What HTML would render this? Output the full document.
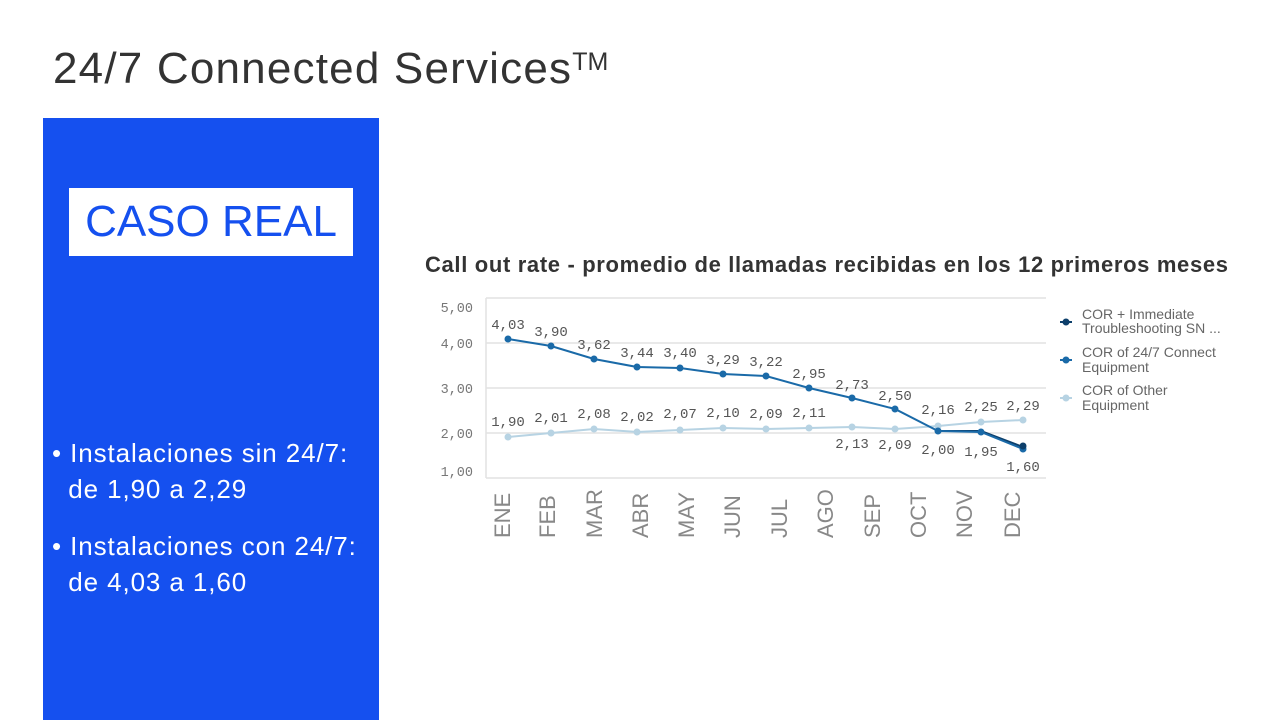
<!DOCTYPE html>
<html><head><meta charset="utf-8"><style>
body{margin:0;width:1280px;height:720px;background:#fff;position:relative;overflow:hidden;font-family:"Liberation Sans",sans-serif}
.t{position:absolute;left:53px;top:44px;font-size:44px;color:#333;letter-spacing:1.2px}
.t sup{font-size:25px;vertical-align:top;position:relative;top:4px;letter-spacing:0}
.blue{position:absolute;left:43px;top:118px;width:336px;height:602px;background:#1550ef}
.box{position:absolute;left:69px;top:188px;width:284px;height:68px;background:#fff;color:#1550ef;font-size:44px;line-height:68px;text-align:center}
.bl{position:absolute;left:52px;color:#fff;font-size:26px;line-height:36px;letter-spacing:0.9px}
</style></head><body>
<div class="t">24/7 Connected Services<sup>TM</sup></div>
<div class="blue"></div>
<div class="box">CASO REAL</div>
<div class="bl" style="top:435px">• Instalaciones sin 24/7:<br>&nbsp;&nbsp;de 1,90 a 2,29</div>
<div class="bl" style="top:528px">• Instalaciones con 24/7:<br>&nbsp;&nbsp;de 4,03 a 1,60</div>
<svg width="1280" height="720" style="position:absolute;left:0;top:0" font-family="Liberation Mono, monospace">
<text x="425" y="272" font-family="Liberation Sans, sans-serif" font-size="22" font-weight="bold" fill="#333" textLength="803" lengthAdjust="spacing">Call out rate - promedio de llamadas recibidas en los 12 primeros meses</text>
<g stroke="#e2e2e2" stroke-width="1.5">
<line x1="486" y1="298" x2="1046" y2="298"/><line x1="486" y1="343" x2="1046" y2="343"/>
<line x1="486" y1="388" x2="1046" y2="388"/><line x1="486" y1="433" x2="1046" y2="433"/>
<line x1="486" y1="478" x2="1046" y2="478"/><line x1="486" y1="298" x2="486" y2="478"/>
</g>
<g font-size="13.5" fill="#777" text-anchor="end">
<text x="473" y="312">5,00</text><text x="473" y="348">4,00</text><text x="473" y="393">3,00</text><text x="473" y="438">2,00</text><text x="473" y="476">1,00</text>
</g>
<polyline fill="none" stroke="#b7d3e3" stroke-width="2" points="508,437 551,433 594,429 637,432 680,430 723,428 766,429 809,428 852,427 895,429 938,426 981,422 1023,420"/>
<g fill="#b7d3e3"><circle cx="508" cy="437" r="3.5"/><circle cx="551" cy="433" r="3.5"/><circle cx="594" cy="429" r="3.5"/><circle cx="637" cy="432" r="3.5"/><circle cx="680" cy="430" r="3.5"/><circle cx="723" cy="428" r="3.5"/><circle cx="766" cy="429" r="3.5"/><circle cx="809" cy="428" r="3.5"/><circle cx="852" cy="427" r="3.5"/><circle cx="895" cy="429" r="3.5"/><circle cx="938" cy="426" r="3.5"/><circle cx="981" cy="422" r="3.5"/><circle cx="1023" cy="420" r="3.5"/></g>
<polyline fill="none" stroke="#0d3f6b" stroke-width="2" points="938,431 981,431 1023,447"/>
<polyline fill="none" stroke="#1a6aa8" stroke-width="2" points="508,339 551,346 594,359 637,367 680,368 723,374 766,376 809,388 852,398 895,409 938,431 981,432 1023,449"/>
<g fill="#1a6aa8"><circle cx="508" cy="339" r="3.5"/><circle cx="551" cy="346" r="3.5"/><circle cx="594" cy="359" r="3.5"/><circle cx="637" cy="367" r="3.5"/><circle cx="680" cy="368" r="3.5"/><circle cx="723" cy="374" r="3.5"/><circle cx="766" cy="376" r="3.5"/><circle cx="809" cy="388" r="3.5"/><circle cx="852" cy="398" r="3.5"/><circle cx="895" cy="409" r="3.5"/><circle cx="938" cy="431" r="3.5"/><circle cx="981" cy="432" r="3.5"/><circle cx="1023" cy="449" r="3.5"/></g>
<circle cx="1023" cy="446" r="3.5" fill="#0d3f6b"/>
<g font-size="14" fill="#555" text-anchor="middle">
<text x="508" y="329">4,03</text><text x="551" y="336">3,90</text><text x="594" y="349">3,62</text><text x="637" y="357">3,44</text><text x="680" y="357">3,40</text><text x="723" y="364">3,29</text><text x="766" y="366">3,22</text><text x="809" y="378">2,95</text><text x="852" y="389">2,73</text><text x="895" y="400">2,50</text>
<text x="508" y="426">1,90</text><text x="551" y="422">2,01</text><text x="594" y="418">2,08</text><text x="637" y="421">2,02</text><text x="680" y="418">2,07</text><text x="723" y="417">2,10</text><text x="766" y="418">2,09</text><text x="809" y="417">2,11</text>
<text x="852" y="448">2,13</text><text x="895" y="449">2,09</text><text x="938" y="414">2,16</text><text x="981" y="411">2,25</text><text x="1023" y="410">2,29</text>
<text x="938" y="454">2,00</text><text x="981" y="456">1,95</text><text x="1023" y="471">1,60</text>
</g>
<g font-family="Liberation Sans, sans-serif" font-size="22" fill="#888">
<text transform="translate(510,538) rotate(-90)">ENE</text><text transform="translate(555,538) rotate(-90)">FEB</text><text transform="translate(602,538) rotate(-90)">MAR</text><text transform="translate(648,538) rotate(-90)">ABR</text><text transform="translate(694,538) rotate(-90)">MAY</text><text transform="translate(740,538) rotate(-90)">JUN</text><text transform="translate(787,538) rotate(-90)">JUL</text><text transform="translate(833,538) rotate(-90)">AGO</text><text transform="translate(880,538) rotate(-90)">SEP</text><text transform="translate(926,538) rotate(-90)">OCT</text><text transform="translate(972,538) rotate(-90)">NOV</text><text transform="translate(1020,538) rotate(-90)">DEC</text>
</g>
<g font-family="Liberation Sans, sans-serif" font-size="14" fill="#666">
<line x1="1060" y1="322" x2="1072" y2="322" stroke="#0d3f6b" stroke-width="2"/><circle cx="1066" cy="322" r="3.5" fill="#0d3f6b"/>
<text x="1082" y="319">COR + Immediate</text><text x="1082" y="333">Troubleshooting SN ...</text>
<line x1="1060" y1="360" x2="1072" y2="360" stroke="#1a6aa8" stroke-width="2"/><circle cx="1066" cy="360" r="3.5" fill="#1a6aa8"/>
<text x="1082" y="357">COR of 24/7 Connect</text><text x="1082" y="372">Equipment</text>
<line x1="1060" y1="398" x2="1072" y2="398" stroke="#b7d3e3" stroke-width="2"/><circle cx="1066" cy="398" r="3.5" fill="#b7d3e3"/>
<text x="1082" y="395">COR of Other</text><text x="1082" y="410">Equipment</text>
</g>
</svg>
</body></html>
